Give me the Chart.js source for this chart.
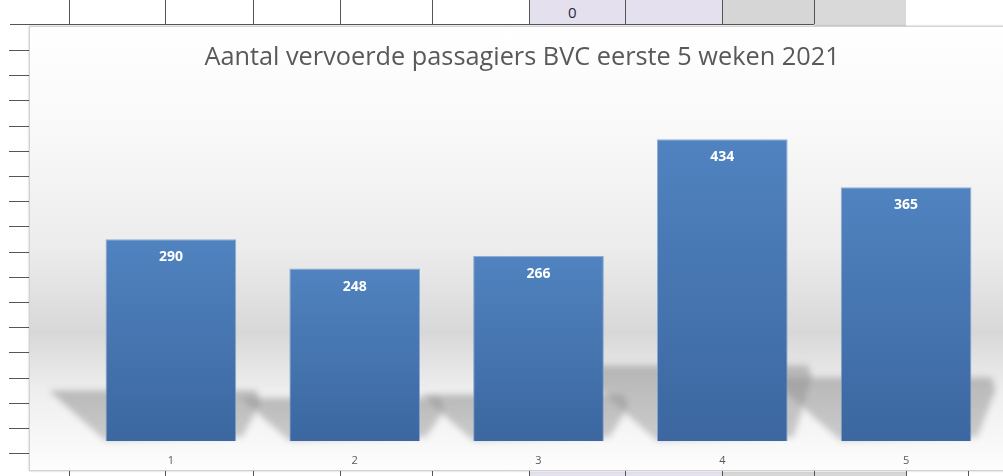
<html>

<head>
    <meta charset="utf-8">
    <title>Aantal vervoerde passagiers BVC</title>
    <script src="https://cdn.jsdelivr.net/npm/chart.js@4.4.1/dist/chart.umd.min.js"></script>
    <style>
        body { margin: 0; width: 1003px; height: 476px; overflow: hidden; background: #fff; position: relative; font-family: 'Open Sans', sans-serif; }
        .ln { position: absolute; background: #555; }
        .cell { position: absolute; }
        #box {
            position: absolute; left: 29px; top: 26px; width: 986px; height: 445px;
            box-sizing: border-box; border: 1px solid #d2d2d2;
            box-shadow: 0 0 2px rgba(0, 0, 0, 0.25);
            background: linear-gradient(to bottom, #ffffff 0%, #f8f8f8 25%, #ececec 50%, #d8d8d8 69%, #eeeeee 82%, #fdfdfd 100%);
            z-index: 2;
        }
    </style>
</head>

<body>
    <!-- spreadsheet bits around the chart -->
    <div class="cell" style="left:529px;top:0;width:193px;height:24px;background:#e4e0ee"></div>
    <div class="cell" style="left:722px;top:0;width:92px;height:24px;background:#d6d6d6"></div>
    <div class="cell" style="left:814px;top:0;width:92px;height:27px;background:#d9d9d9"></div>
    <div class="cell" style="left:568px;top:2px;font-size:15px;color:#1f2a44">0</div>
    <div class="cell" style="left:529px;top:472px;width:193px;height:4px;background:#e4e0ee"></div>
    <div class="cell" style="left:722px;top:472px;width:184px;height:4px;background:#d6d6d6"></div>
    <div id="deco"></div>
    <div id="box"><canvas id="myChart"></canvas></div>

    <script>
        const weeks = ['1', '2', '3', '4', '5'];
        const passengers = [290, 248, 266, 434, 365];
        const chartTitle = 'Aantal vervoerde passagiers BVC eerste 5 weken 2021';

        // grid lines of the sheet behind the chart
        const deco = document.getElementById('deco');
        function line(l, t, w, h) {
            const d = document.createElement('div');
            d.className = 'ln';
            d.style.cssText = 'left:' + l + 'px;top:' + t + 'px;width:' + w + 'px;height:' + h + 'px';
            deco.appendChild(d);
        }
        line(10, 24, 804, 1);
        [69, 165, 253, 340, 432, 529, 625, 722, 814].forEach(x => line(x, 0, 1, 24));
        [69, 165, 253, 340, 432, 529, 625, 722, 814, 906, 968].forEach(x => line(x, 471, 1, 5));
        for (let y = 50; y < 470; y += 25.2) line(9, Math.round(y), 20, 1);

        // perspective shadow behind each bar
        const barShadow = {
            id: 'barShadow',
            beforeDatasetsDraw(chart) {
                const ctx = chart.ctx;
                const meta = chart.getDatasetMeta(0);
                ctx.save();
                ctx.filter = 'blur(3px)';
                meta.data.forEach(bar => {
                    const left = bar.x - bar.width / 2;
                    const right = bar.x + bar.width / 2;
                    const h = bar.base - bar.y;
                    const top = bar.base - h * 0.25;
                    const g = ctx.createLinearGradient(0, top, 0, bar.base);
                    g.addColorStop(0, 'rgba(150,150,150,0.6)');
                    g.addColorStop(1, 'rgba(150,150,150,0.45)');
                    ctx.fillStyle = g;
                    ctx.beginPath();
                    ctx.moveTo(left, bar.base);
                    ctx.lineTo(right + 6, bar.base - 4);
                    ctx.lineTo(right + 24, top + 12);
                    ctx.lineTo(right + 20, top);
                    ctx.lineTo(left - h * 0.28, top);
                    ctx.closePath();
                    ctx.fill();
                });
                ctx.restore();
            }
        };

        // value labels inside the top of the bars
        const valueLabels = {
            id: 'valueLabels',
            afterDatasetsDraw(chart) {
                const ctx = chart.ctx;
                const meta = chart.getDatasetMeta(0);
                ctx.save();
                ctx.font = "bold 14px 'Open Sans'";
                ctx.fillStyle = '#ffffff';
                ctx.textAlign = 'center';
                ctx.textBaseline = 'middle';
                meta.data.forEach((bar, i) => {
                    ctx.fillText(passengers[i], bar.x, bar.y + 18);
                });
                ctx.restore();
            }
        };

        const ctx = document.getElementById('myChart');
        const myChart = new Chart(ctx, {
            type: 'bar',
            data: {
                labels: weeks,
                datasets: [{
                    data: passengers,
                    backgroundColor: function (c) {
                        const chart = c.chart;
                        if (!chart.chartArea || c.type !== 'data') return '#4a7ab6';
                        const y = chart.scales.y;
                        const top = y.getPixelForValue(c.raw);
                        const bottom = y.getPixelForValue(0);
                        const g = chart.ctx.createLinearGradient(0, top, 0, bottom);
                        g.addColorStop(0, '#5083c0');
                        g.addColorStop(1, '#3c67a0');
                        return g;
                    },
                    borderColor: 'rgba(120,155,205,0.8)',
                    borderWidth: 1,
                    categoryPercentage: 1,
                    barPercentage: 0.711
                }]
            },
            options: {
                responsive: true,
                maintainAspectRatio: false,
                animation: false,
                layout: { padding: 0 },
                plugins: {
                    legend: { display: false },
                    tooltip: { enabled: false },
                    title: {
                        display: true,
                        text: chartTitle,
                        color: '#595959',
                        font: { family: 'Open Sans', size: 25.3, weight: 'normal' },
                        padding: { top: 16, bottom: 20 }
                    }
                },
                scales: {
                    x: {
                        grid: { display: false, drawTicks: false },
                        border: { display: false },
                        ticks: { color: '#595959', font: { family: 'Open Sans', size: 11 }, padding: 13 },
                        afterFit: s => { s.height = 29; }
                    },
                    y: {
                        position: 'left',
                        min: 0,
                        max: 500,
                        grid: { display: false, drawTicks: false },
                        border: { display: false },
                        ticks: { display: false },
                        afterFit: s => { s.width = 49; }
                    },
                    y2: {
                        position: 'right',
                        min: 0,
                        max: 500,
                        grid: { display: false, drawTicks: false },
                        border: { display: false },
                        ticks: { display: false },
                        afterFit: s => { s.width = 16; }
                    }
                }
            },
            plugins: [barShadow, valueLabels]
        });
    </script>
</body>

</html>
